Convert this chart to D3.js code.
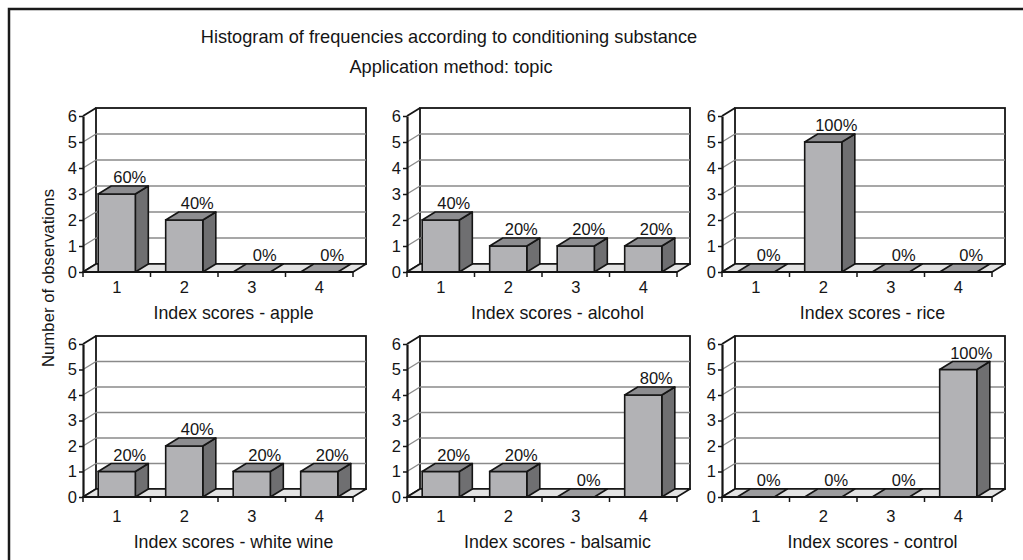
<!DOCTYPE html>
<html>
<head>
<meta charset="utf-8">
<script src="https://cdn.jsdelivr.net/npm/d3@7"></script>
<style>
  body { margin: 0; background: #fff; }
  svg { display: block; font-family: "Liberation Sans", Arial, Helvetica, sans-serif; }
</style>
</head>
<body>
<svg id="chart" width="1023" height="560"></svg>
<script>
// data
const categories = ["1", "2", "3", "4"];
const yTicks = [0, 1, 2, 3, 4, 5, 6];

const apple = [3, 2, 0, 0];
const alcohol = [2, 1, 1, 1];
const rice = [0, 5, 0, 0];
const whiteWine = [1, 2, 1, 1];
const balsamic = [1, 1, 0, 4];
const control = [0, 0, 0, 5];

const applePct = ["60%", "40%", "0%", "0%"];
const alcoholPct = ["40%", "20%", "20%", "20%"];
const ricePct = ["0%", "100%", "0%", "0%"];
const whiteWinePct = ["20%", "40%", "20%", "20%"];
const balsamicPct = ["20%", "20%", "0%", "80%"];
const controlPct = ["0%", "0%", "0%", "100%"];

const panelTitles = ["Index scores - apple", "Index scores - alcohol", "Index scores - rice",
                     "Index scores - white wine", "Index scores - balsamic", "Index scores - control"];

const panels = [
  {values: apple, pct: applePct, col: 0, row: 0},
  {values: alcohol, pct: alcoholPct, col: 1, row: 0},
  {values: rice, pct: ricePct, col: 2, row: 0},
  {values: whiteWine, pct: whiteWinePct, col: 0, row: 1},
  {values: balsamic, pct: balsamicPct, col: 1, row: 1},
  {values: control, pct: controlPct, col: 2, row: 1}
];

// layout
const colX = [83, 407, 722];
const rowY = [{base: 272, top: 116}, {base: 497, top: 344}];
const plotW = 270;
const dx = 13, dy = 8;   // 3d depth offset
const ink = "#151515";

const svg = d3.select("#chart");

// outer frame (only top and left edges fall inside the picture)
svg.append("rect")
  .attr("x", 9).attr("y", 9)
  .attr("width", 1100).attr("height", 700)
  .attr("fill", "none").attr("stroke", "#1a1a1a").attr("stroke-width", 2.5);

svg.append("text")
  .attr("x", 449).attr("y", 43)
  .attr("text-anchor", "middle")
  .attr("font-size", 18.2)
  .attr("fill", ink)
  .text("Histogram of frequencies according to conditioning substance");

svg.append("text")
  .attr("x", 451).attr("y", 73)
  .attr("text-anchor", "middle")
  .attr("font-size", 18.2)
  .attr("fill", ink)
  .text("Application method: topic");

svg.append("text")
  .attr("transform", "translate(48,278) rotate(-90)")
  .attr("text-anchor", "middle")
  .attr("dy", "0.35em")
  .attr("font-size", 16.8)
  .attr("fill", ink)
  .text("Number of observations");

const pts = p => p.map(q => q.join(",")).join(" ");

panels.forEach((p, i) => {
  const x0 = colX[p.col];
  const r = rowY[p.row];
  const xr = x0 + plotW;

  const x = d3.scaleBand()
    .domain(categories)
    .range([x0, xr])
    .paddingInner(0.45)
    .paddingOuter(0.225);

  const y = d3.scaleLinear()
    .domain([0, 6])
    .range([r.base, r.top]);

  const g = svg.append("g");

  // back wall
  g.append("rect")
    .attr("x", x0 + dx).attr("y", y(6) - dy)
    .attr("width", plotW).attr("height", y(0) - y(6))
    .attr("fill", "#fff").attr("stroke", ink).attr("stroke-width", 1.8);

  // gridlines on back wall + left wall diagonals
  g.selectAll(".grid")
    .data(yTicks.filter(t => t > 0 && t < 6))
    .enter().append("line")
    .attr("x1", x0 + dx).attr("x2", xr + dx)
    .attr("y1", d => y(d) - dy).attr("y2", d => y(d) - dy)
    .attr("stroke", "#8a8a8a").attr("stroke-width", 1.6);

  g.selectAll(".diag")
    .data(yTicks)
    .enter().append("line")
    .attr("x1", x0).attr("x2", x0 + dx)
    .attr("y1", d => y(d)).attr("y2", d => y(d) - dy)
    .attr("stroke", d => (d === 0 || d === 6) ? ink : "#8a8a8a")
    .attr("stroke-width", d => (d === 0 || d === 6) ? 1.8 : 1.4);

  // floor
  g.append("polygon")
    .attr("points", pts([[x0, y(0)], [xr, y(0)], [xr + dx, y(0) - dy], [x0 + dx, y(0) - dy]]))
    .attr("fill", "#e3e3e3").attr("stroke", ink).attr("stroke-width", 1.6)
    .attr("stroke-linejoin", "round");

  // bars
  const bars = g.selectAll(".bar")
    .data(p.values.map((v, k) => ({cat: categories[k], v: v, pct: p.pct[k]})))
    .enter().append("g");

  bars.append("polygon") // side
    .attr("points", d => {
      const xR = x(d.cat) + x.bandwidth();
      return pts([[xR, y(0)], [xR + dx, y(0) - dy], [xR + dx, y(d.v) - dy], [xR, y(d.v)]]);
    })
    .attr("fill", "#6f6f71").attr("stroke", ink).attr("stroke-width", 1.6)
    .attr("stroke-linejoin", "round")
    .attr("display", d => d.v > 0 ? null : "none");

  bars.append("rect") // front
    .attr("x", d => x(d.cat)).attr("y", d => y(d.v))
    .attr("width", x.bandwidth()).attr("height", d => y(0) - y(d.v))
    .attr("fill", "#b2b2b5").attr("stroke", ink).attr("stroke-width", 1.6)
    .attr("display", d => d.v > 0 ? null : "none");

  bars.append("polygon") // top
    .attr("points", d => {
      const xL = x(d.cat), xR = xL + x.bandwidth(), yv = y(d.v);
      return pts([[xL, yv], [xL + dx, yv - dy], [xR + dx, yv - dy], [xR, yv]]);
    })
    .attr("fill", d => d.v > 0 ? "#8d8d90" : "#9c9c9e")
    .attr("stroke", ink).attr("stroke-width", 1.6)
    .attr("stroke-linejoin", "round");

  bars.append("text")
    .attr("x", d => x(d.cat) + x.bandwidth() / 2 + dx)
    .attr("y", d => y(d.v) - dy - 3)
    .attr("text-anchor", "middle")
    .attr("font-size", 16.5)
    .attr("fill", ink)
    .text(d => d.pct);

  // front x axis line with boundary ticks
  g.append("line")
    .attr("x1", x0).attr("x2", xr)
    .attr("y1", y(0)).attr("y2", y(0))
    .attr("stroke", ink).attr("stroke-width", 2.2);

  g.selectAll(".xtick")
    .data(d3.range(categories.length + 1))
    .enter().append("line")
    .attr("x1", k => x0 + k * x.step()).attr("x2", k => x0 + k * x.step())
    .attr("y1", y(0)).attr("y2", y(0) + 5)
    .attr("stroke", ink).attr("stroke-width", 1.5);

  g.selectAll(".xlab")
    .data(categories)
    .enter().append("text")
    .attr("x", c => x(c) + x.bandwidth() / 2)
    .attr("y", p.row === 0 ? 293 : 522)
    .attr("text-anchor", "middle")
    .attr("font-size", 16.5)
    .attr("fill", ink)
    .text(c => c);

  // y axis
  const yAxis = g.append("g")
    .attr("transform", `translate(${x0},0)`)
    .call(d3.axisLeft(y).tickValues(yTicks).tickFormat(d3.format("d")).tickSize(4).tickSizeOuter(0).tickPadding(2));
  yAxis.select(".domain").attr("stroke", ink).attr("stroke-width", 2.2);
  yAxis.selectAll(".tick line").attr("stroke", ink).attr("stroke-width", 1.5);
  yAxis.selectAll(".tick text")
    .attr("font-family", "Liberation Sans, Arial, sans-serif")
    .attr("font-size", 16.5).attr("fill", ink);

  // panel title
  g.append("text")
    .attr("x", (x0 + xr + dx) / 2 + 9)
    .attr("y", p.row === 0 ? 319 : 548)
    .attr("text-anchor", "middle")
    .attr("font-size", 17.8)
    .attr("fill", ink)
    .text(panelTitles[i]);
});
</script>
</body>
</html>
